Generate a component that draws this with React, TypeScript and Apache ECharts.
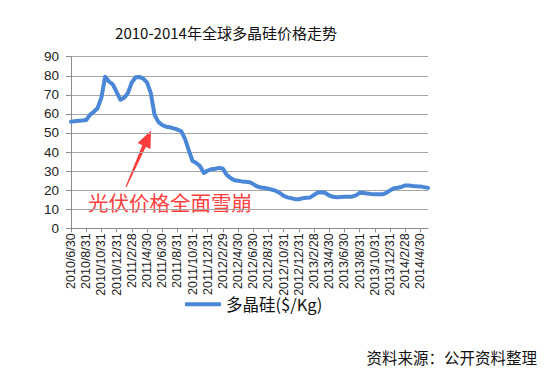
import React, { useEffect, useRef } from "react";
import * as echarts from "echarts";

// semi-monthly sample dates from 2010/6/30 to 2014/5/31
const startYear = 2010;
const startMonth = 6;
const endYear = 2014;
const endMonth = 5;

function buildCategories(): string[] {
  const out: string[] = [];
  let y = startYear;
  let m = startMonth;
  let first = true;
  while (y < endYear || (y === endYear && m <= endMonth)) {
    const last = new Date(y, m, 0).getDate();
    if (!first) out.push(`${y}/${m}/15`);
    out.push(`${y}/${m}/${last}`);
    first = false;
    m += 1;
    if (m > 12) {
      m = 1;
      y += 1;
    }
  }
  return out;
}

const categories = buildCategories();

const priceValues = [
  55.9, 56.2, 56.4, 56.5, 56.8, 59.5, 61.1, 63.0, 68.5, 79.5,
  77.0, 75.5, 71.5, 67.5, 68.5, 71.0, 76.5, 79.2, 79.4, 78.5,
  76.5, 71.0, 59.5, 55.8, 54.2, 53.3, 53.0, 52.4, 51.8, 51.0,
  47.0, 41.0, 35.3, 34.2, 32.5, 29.0, 30.3, 31.0, 31.2, 31.7,
  31.2, 28.0, 26.4, 25.2, 24.9, 24.6, 24.4, 24.2, 23.2, 21.9,
  21.4, 21.1, 20.7, 20.2, 19.6, 18.5, 17.0, 16.2, 15.8, 15.3,
  15.2, 15.8, 16.0, 16.2, 17.5, 18.8, 18.9, 18.5, 17.2, 16.5,
  16.3, 16.4, 16.5, 16.6, 16.6, 17.3, 18.6, 18.5, 18.2, 18.0,
  17.9, 17.8, 17.8, 18.6, 19.8, 21.0, 21.3, 21.7, 22.5, 22.5,
  22.2, 22.0, 21.9, 21.6, 21.2,
];

const seriesName = "多晶硅($/Kg)";
const chartTitle = "2010-2014年全球多晶硅价格走势";
const annotation = "光伏价格全面雪崩";
const sourceNote = "资料来源：公开资料整理";

const CJK = "'Noto Sans CJK SC', 'Noto Sans', sans-serif";
const LATIN = "'Liberation Sans', Arial, sans-serif";

export default function App() {
  const ref = useRef<HTMLDivElement>(null);

  useEffect(() => {
    if (!ref.current) return;
    const chart = echarts.init(ref.current, undefined, { renderer: "svg" });
    chart.setOption({
      animation: false,
      backgroundColor: "#ffffff",
      grid: { left: 71, right: 121, top: 56.7, bottom: 149.7, containLabel: false },
      xAxis: {
        type: "category",
        data: categories,
        boundaryGap: false,
        axisLine: { lineStyle: { color: "#8c8c8c", width: 1 } },
        axisTick: { interval: 3, length: 4, lineStyle: { color: "#8c8c8c" } },
        axisLabel: {
          interval: 3,
          rotate: 90,
          fontSize: 12.5,
          margin: 5,
          color: "#222",
          fontFamily: LATIN,
        },
        splitLine: { show: false },
      },
      yAxis: {
        type: "value",
        min: 0,
        max: 90,
        interval: 10,
        axisLine: { show: true, lineStyle: { color: "#8c8c8c", width: 1 } },
        axisTick: { show: true, length: 5, lineStyle: { color: "#8c8c8c" } },
        axisLabel: { fontSize: 13.5, margin: 12, color: "#222", fontFamily: LATIN },
        splitLine: { lineStyle: { color: "#a6a6a6", width: 1 } },
      },
      legend: {
        data: [seriesName],
        left: 180,
        top: 291,
        itemWidth: 36,
        itemHeight: 4,
        icon: "roundRect",
        textStyle: { fontSize: 16.5, color: "#111", fontFamily: CJK },
      },
      series: [
        {
          name: seriesName,
          type: "line",
          data: priceValues,
          symbol: "none",
          lineStyle: { color: "#4a87d6", width: 4, join: "round", cap: "round" },
          itemStyle: { color: "#4a87d6" },
        },
      ],
      graphic: [
        {
          type: "text",
          x: 226,
          y: 32,
          style: {
            text: chartTitle,
            fontSize: 15,
            fontFamily: CJK,
            fill: "#111",
            align: "center",
            verticalAlign: "middle",
          },
        },
        {
          type: "polygon",
          shape: {
            points: [
              [125.5, 186.8],
              [142.3, 145.2],
              [137.7, 143.1],
              [151, 130.5],
              [150.5, 148.9],
              [145.9, 146.8],
              [126.5, 187.2],
            ],
          },
          style: { fill: "#ff3b3b" },
        },
        {
          type: "text",
          x: 88,
          y: 201.5,
          style: {
            text: annotation,
            fontSize: 20.5,
            fontFamily: CJK,
            fill: "#ff4040",
            align: "left",
            verticalAlign: "middle",
          },
        },
        {
          type: "text",
          x: 537,
          y: 356.5,
          style: {
            text: sourceNote,
            fontSize: 15.5,
            fontFamily: CJK,
            fill: "#111",
            align: "right",
            verticalAlign: "middle",
          },
        },
      ],
    });
    return () => chart.dispose();
  }, []);

  return (
    <div
      ref={ref}
      style={{ position: "fixed", left: 0, top: 0, width: 549, height: 378 }}
    />
  );
}
